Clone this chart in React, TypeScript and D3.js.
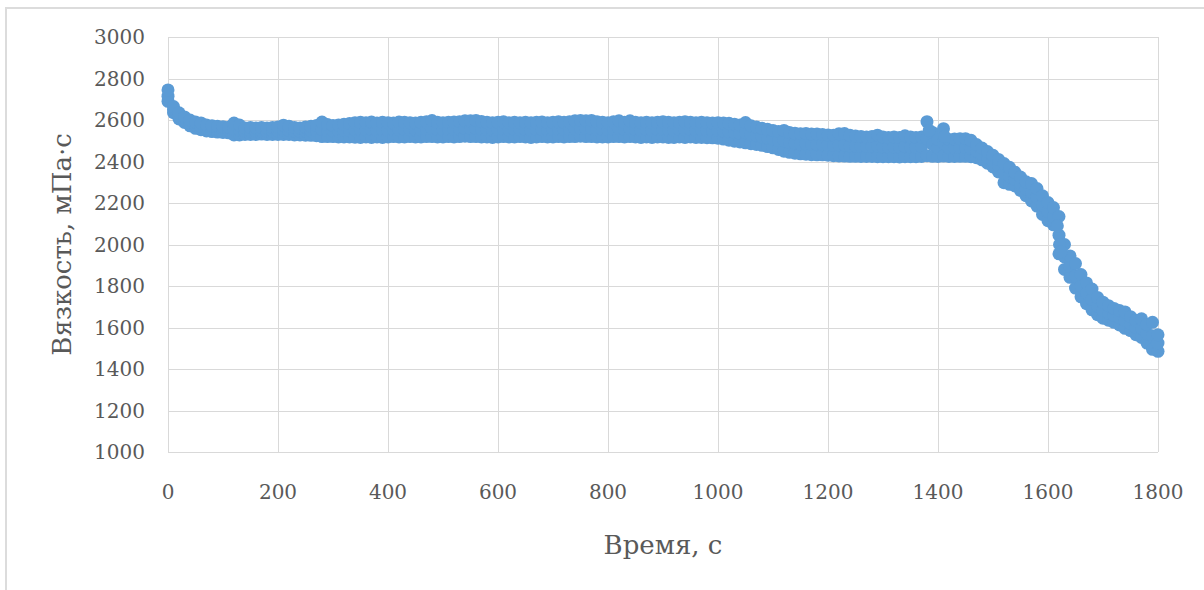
import * as d3 from "d3";
import React, { useEffect, useRef } from "react";

// sample times, s
const TIMES = [
  0, 10, 20, 30, 40, 50, 60, 70, 80, 90, 100, 110, 120, 130, 140, 150, 160, 170, 180, 190,
  200, 210, 220, 230, 240, 250, 260, 270, 280, 290, 300, 310, 320, 330, 340, 350, 360, 370, 380, 390,
  400, 410, 420, 430, 440, 450, 460, 470, 480, 490, 500, 510, 520, 530, 540, 550, 560, 570, 580, 590,
  600, 610, 620, 630, 640, 650, 660, 670, 680, 690, 700, 710, 720, 730, 740, 750, 760, 770, 780, 790,
  800, 810, 820, 830, 840, 850, 860, 870, 880, 890, 900, 910, 920, 930, 940, 950, 960, 970, 980, 990,
  1000, 1010, 1020, 1030, 1040, 1050, 1060, 1070, 1080, 1090, 1100, 1110, 1120, 1130, 1140, 1150, 1160, 1170, 1180, 1190,
  1200, 1210, 1220, 1230, 1240, 1250, 1260, 1270, 1280, 1290, 1300, 1310, 1320, 1330, 1340, 1350, 1360, 1370, 1380, 1390,
  1400, 1410, 1420, 1430, 1440, 1450, 1460, 1470, 1480, 1490, 1500, 1510, 1520, 1530, 1540, 1550, 1560, 1570, 1580, 1590,
  1600, 1610, 1620, 1630, 1640, 1650, 1660, 1670, 1680, 1690, 1700, 1710, 1720, 1730, 1740, 1750, 1760, 1770, 1780, 1790,
  1800,
];

// viscosity readings, mPa·s — upper, middle and lower edge of the noisy band
const VISC_HI = [
  2745, 2665, 2635, 2615, 2600, 2590, 2586, 2576, 2572, 2570, 2567, 2565, 2585, 2576, 2562, 2564, 2562, 2564, 2562, 2564,
  2566, 2575, 2570, 2564, 2562, 2566, 2570, 2574, 2590, 2578, 2574, 2576, 2580, 2583, 2587, 2589, 2587, 2590, 2585, 2589,
  2587, 2585, 2590, 2589, 2587, 2585, 2589, 2591, 2597, 2589, 2587, 2589, 2590, 2592, 2596, 2596, 2598, 2593, 2589, 2587,
  2589, 2591, 2587, 2589, 2587, 2589, 2587, 2589, 2590, 2587, 2589, 2591, 2589, 2591, 2596, 2598, 2596, 2598, 2591, 2589,
  2587, 2591, 2596, 2589, 2596, 2589, 2587, 2589, 2587, 2589, 2591, 2589, 2587, 2589, 2591, 2589, 2587, 2589, 2587, 2585,
  2587, 2585, 2584, 2580, 2576, 2588, 2572, 2566, 2560, 2555, 2550, 2545, 2550, 2540, 2536, 2534, 2535, 2532, 2533, 2530,
  2528, 2527, 2534, 2535, 2526, 2523, 2520, 2518, 2520, 2527, 2518, 2516, 2518, 2516, 2524, 2518, 2516, 2518, 2592, 2540,
  2506, 2558, 2506, 2508, 2510, 2510, 2502, 2482, 2465, 2448, 2430, 2410, 2390, 2372, 2348, 2325, 2302, 2294, 2270, 2235,
  2202, 2178, 2135, 2000, 1945, 1908, 1855, 1815, 1785, 1745, 1722, 1705, 1692, 1682, 1675, 1652, 1635, 1642, 1615, 1625,
  1565,
];

const VISC_MID = [
  2715, 2650, 2620, 2601, 2586, 2575, 2569, 2561, 2558, 2556, 2553, 2551, 2556, 2552, 2546, 2547, 2546, 2548, 2546, 2547,
  2548, 2552, 2550, 2546, 2545, 2546, 2548, 2549, 2555, 2549, 2547, 2547, 2549, 2550, 2552, 2552, 2552, 2553, 2551, 2552,
  2551, 2552, 2553, 2553, 2553, 2551, 2552, 2555, 2558, 2553, 2552, 2554, 2554, 2556, 2559, 2558, 2559, 2555, 2553, 2551,
  2553, 2555, 2552, 2553, 2553, 2553, 2551, 2553, 2555, 2552, 2553, 2555, 2553, 2555, 2558, 2560, 2558, 2559, 2554, 2553,
  2552, 2555, 2558, 2553, 2558, 2553, 2551, 2553, 2551, 2553, 2554, 2552, 2551, 2553, 2553, 2553, 2551, 2552, 2551, 2549,
  2549, 2546, 2543, 2539, 2535, 2539, 2529, 2524, 2519, 2513, 2508, 2501, 2500, 2492, 2488, 2485, 2485, 2482, 2482, 2481,
  2479, 2477, 2480, 2480, 2475, 2474, 2472, 2471, 2472, 2475, 2470, 2469, 2470, 2469, 2473, 2470, 2469, 2471, 2510, 2482,
  2465, 2490, 2465, 2466, 2467, 2467, 2462, 2450, 2436, 2420, 2402, 2380, 2344, 2331, 2315, 2292, 2268, 2252, 2228, 2190,
  2158, 2136, 2045, 1940, 1893, 1849, 1800, 1765, 1735, 1703, 1683, 1670, 1658, 1647, 1635, 1618, 1600, 1597, 1570, 1560,
  1525,
];

const VISC_LO = [
  2690, 2635, 2605, 2588, 2572, 2560, 2553, 2547, 2544, 2542, 2540, 2538, 2528, 2528, 2530, 2530, 2530, 2532, 2530, 2530,
  2530, 2530, 2530, 2528, 2528, 2527, 2526, 2524, 2520, 2520, 2520, 2518, 2518, 2518, 2517, 2516, 2518, 2516, 2518, 2516,
  2518, 2520, 2518, 2518, 2520, 2518, 2518, 2520, 2520, 2518, 2518, 2520, 2518, 2520, 2522, 2520, 2520, 2518, 2518, 2516,
  2518, 2520, 2518, 2518, 2520, 2518, 2516, 2518, 2520, 2518, 2518, 2520, 2518, 2520, 2520, 2522, 2520, 2520, 2518, 2518,
  2518, 2520, 2520, 2518, 2520, 2518, 2516, 2518, 2516, 2518, 2518, 2516, 2516, 2518, 2516, 2518, 2516, 2516, 2515, 2514,
  2512, 2508, 2503, 2498, 2494, 2490, 2486, 2482, 2478, 2472, 2466, 2458, 2450, 2444, 2440, 2437, 2435, 2433, 2432, 2432,
  2430, 2428, 2427, 2426, 2425, 2425, 2424, 2424, 2424, 2423, 2423, 2423, 2423, 2422, 2423, 2423, 2423, 2424, 2428, 2425,
  2424, 2426, 2424, 2424, 2425, 2425, 2423, 2418, 2408, 2392, 2374, 2350, 2298, 2290, 2282, 2260, 2235, 2210, 2185, 2145,
  2115, 2095, 1955, 1880, 1842, 1790, 1748, 1715, 1685, 1662, 1645, 1635, 1625, 1612, 1596, 1585, 1565, 1552, 1525, 1495,
  1485,
];

// extra readings in the steep step and the two spikes
const EXTRA_TIMES = [1384, 1412, 1617, 1621, 1624];
const EXTRA_VISC = [2550, 2520, 2090, 2000, 1965];

const X_DOMAIN: [number, number] = [0, 1800];
const Y_DOMAIN: [number, number] = [1000, 3000];
const X_TITLE = "Время, с";
const Y_TITLE = "Вязкость, мПа·с";

const W = 1204;
const H = 590;
const PLOT = { left: 168, right: 1158, top: 37, bottom: 452 };
const MARKER = "#5b9bd5";
const GRID = "#d9d9d9";
const TEXT = "#595959";
const FONT = "'DejaVu Serif', serif";

export default function App() {
  const svgRef = useRef<SVGSVGElement | null>(null);

  useEffect(() => {
    const svg = d3.select(svgRef.current);
    svg.selectAll("*").remove();

    const x = d3.scaleLinear().domain(X_DOMAIN).range([PLOT.left, PLOT.right]);
    const y = d3.scaleLinear().domain(Y_DOMAIN).range([PLOT.bottom, PLOT.top]);

    // chart frame
    svg.append("rect")
      .attr("x", 6).attr("y", 8)
      .attr("width", W + 20).attr("height", H + 20)
      .attr("fill", "white")
      .attr("stroke", "#dcdcdc")
      .attr("stroke-width", 2);

    // grid
    const grid = svg.append("g");
    grid.selectAll("line.h")
      .data(y.ticks(10))
      .join("line")
      .attr("x1", PLOT.left).attr("x2", PLOT.right)
      .attr("y1", d => Math.round(y(d)) + 0.5).attr("y2", d => Math.round(y(d)) + 0.5)
      .attr("stroke", GRID);
    grid.selectAll("line.v")
      .data(x.ticks(9))
      .join("line")
      .attr("y1", PLOT.top).attr("y2", PLOT.bottom)
      .attr("x1", d => Math.round(x(d)) + 0.5).attr("x2", d => Math.round(x(d)) + 0.5)
      .attr("stroke", GRID);

    // tick labels
    svg.append("g")
      .selectAll("text")
      .data(y.ticks(10))
      .join("text")
      .attr("x", 145)
      .attr("y", d => y(d))
      .attr("dy", "0.36em")
      .attr("text-anchor", "end")
      .attr("font-family", FONT)
      .attr("font-size", 20)
      .attr("fill", TEXT)
      .text(d => String(d));

    svg.append("g")
      .selectAll("text")
      .data(x.ticks(9))
      .join("text")
      .attr("x", d => x(d))
      .attr("y", 492)
      .attr("dy", "0.36em")
      .attr("text-anchor", "middle")
      .attr("font-family", FONT)
      .attr("font-size", 20)
      .attr("fill", TEXT)
      .text(d => String(d));

    // axis titles
    svg.append("text")
      .attr("x", (PLOT.left + PLOT.right) / 2)
      .attr("y", 545)
      .attr("dy", "0.36em")
      .attr("text-anchor", "middle")
      .attr("font-family", FONT)
      .attr("font-size", 26)
      .attr("fill", TEXT)
      .text(X_TITLE);

    svg.append("text")
      .attr("transform", `translate(62,${(PLOT.top + PLOT.bottom) / 2}) rotate(-90)`)
      .attr("dy", "0.36em")
      .attr("text-anchor", "middle")
      .attr("font-family", FONT)
      .attr("font-size", 26)
      .attr("fill", TEXT)
      .text(Y_TITLE);

    // markers: one scatter series, three readings per sample time
    const pts: { t: number; v: number }[] = [];
    TIMES.forEach((t, i) => {
      pts.push({ t, v: VISC_LO[i] });
      pts.push({ t, v: VISC_MID[i] });
      pts.push({ t, v: VISC_HI[i] });
    });
    EXTRA_TIMES.forEach((t, i) => pts.push({ t, v: EXTRA_VISC[i] }));

    svg.append("g")
      .selectAll("circle")
      .data(pts)
      .join("circle")
      .attr("cx", d => x(d.t))
      .attr("cy", d => y(d.v))
      .attr("r", 6.5)
      .attr("fill", MARKER);
  }, []);

  return (
    <svg
      ref={svgRef}
      width={W}
      height={H}
      style={{ position: "absolute", left: 0, top: 0, background: "white" }}
    />
  );
}
